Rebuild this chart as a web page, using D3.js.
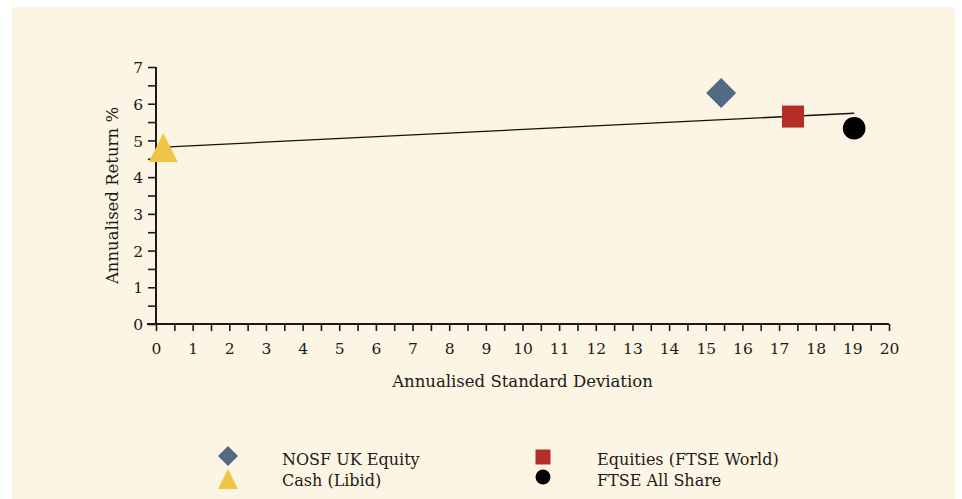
<!DOCTYPE html>
<html>
<head>
<meta charset="utf-8">
<script src="https://cdn.jsdelivr.net/npm/d3@7"></script>
<style>
  html, body { margin: 0; padding: 0; background: #ffffff; }
  svg { display: block; }
  text { font-family: "DejaVu Serif", serif; fill: #1a1a1a; }
</style>
</head>
<body>
<svg id="chart" width="962" height="499"></svg>
<script>
// ---- data ----
const seriesNames = ["NOSF UK Equity", "Equities (FTSE World)", "Cash (Libid)", "FTSE All Share"];
const stdDev      = [15.42, 17.38, 0.2, 19.05];
const annReturn   = [6.29, 5.65, 4.81, 5.33];
const symbols     = ["diamond", "square", "triangle", "circle"];
const colors      = ["#526a83", "#b52e26", "#f0c445", "#000000"];
const lineX = [0.22, 19.05];
const lineY = [4.82, 5.74];
const xTicks = d3.range(0, 21, 1);
const yTicks = d3.range(0, 8, 1);
const legendOrder = ["NOSF UK Equity", "Equities (FTSE World)", "Cash (Libid)", "FTSE All Share"];

// ---- layout ----
const svg = d3.select("#chart");
svg.append("rect").attr("x", 12).attr("y", 7).attr("width", 943).attr("height", 492).attr("fill", "#fdf5e3");

const x = d3.scaleLinear().domain([0, 20]).range([156, 889]);
const y = d3.scaleLinear().domain([0, 7]).range([324, 67]);

// ticks every 0.5, labels on integers
const xAxis = d3.axisBottom(x).tickValues(d3.range(0, 20.01, 0.5)).tickSize(7).tickPadding(12)
  .tickFormat(d => xTicks.includes(d) ? d : "");
const yAxis = d3.axisLeft(y).tickValues(d3.range(0, 7.01, 0.5)).tickSize(8).tickPadding(5)
  .tickFormat(d => yTicks.includes(d) ? d : "");

const gx = svg.append("g").attr("transform", "translate(0,324)").call(xAxis);
const gy = svg.append("g").attr("transform", "translate(156,0)").call(yAxis);
[gx, gy].forEach(g => {
  g.select(".domain").remove();
  g.selectAll(".tick line").attr("stroke", "#1a1a1a").attr("stroke-width", 1.6);
  g.selectAll(".tick text").style("font-family", '"DejaVu Serif", serif').style("font-size", "15.5px").attr("fill", "#1a1a1a");
});
gy.selectAll(".tick text").attr("dy", "0.36em");
// axis lines
svg.append("line").attr("x1", 147).attr("x2", x(20)).attr("y1", 324).attr("y2", 324)
  .attr("stroke", "#1a1a1a").attr("stroke-width", 2);
svg.append("line").attr("x1", 156).attr("x2", 156).attr("y1", y(7)).attr("y2", 325)
  .attr("stroke", "#1a1a1a").attr("stroke-width", 2);

// axis titles
svg.append("text").attr("x", (x(0) + x(20)) / 2).attr("y", 387).attr("text-anchor", "middle")
  .style("font-size", "16.5px").text("Annualised Standard Deviation");
svg.append("text").attr("transform", `translate(118,${(y(0) + y(7)) / 2}) rotate(-90)`)
  .attr("text-anchor", "middle").style("font-size", "16.5px").text("Annualised Return %");

// trend line
svg.append("line").attr("x1", x(lineX[0])).attr("y1", y(lineY[0]))
  .attr("x2", x(lineX[1])).attr("y2", y(lineY[1]))
  .attr("stroke", "#111").attr("stroke-width", 1.3);

function shapePath(type, s) {
  if (type === "diamond") return `M0,${-s}L${s},0L0,${s}L${-s},0Z`;
  if (type === "square") return `M${-s},${-s}H${s}V${s}H${-s}Z`;
  if (type === "triangle") return `M0,${-s}L${s},${s}L${-s},${s}Z`;
  return d3.arc()({innerRadius: 0, outerRadius: s, startAngle: 0, endAngle: 2 * Math.PI});
}
const plotSize = {diamond: 15, square: 11, triangle: 14.5, circle: 11.3};
const legSize  = {diamond: 10, square: 7.5, triangle: 10, circle: 7.5};

// markers
seriesNames.forEach((n, i) => {
  svg.append("path").attr("d", shapePath(symbols[i], plotSize[symbols[i]]))
    .attr("transform", `translate(${x(stdDev[i])},${y(annReturn[i])})`)
    .attr("fill", colors[i]);
});

// legend
const legPos = [[228, 456, 282, 465], [543, 457, 597, 465], [228, 479, 282, 486], [543, 477, 597, 486]];
legendOrder.forEach((n, k) => {
  const i = seriesNames.indexOf(n);
  const p = legPos[k];
  svg.append("path").attr("d", shapePath(symbols[i], legSize[symbols[i]]))
    .attr("transform", `translate(${p[0]},${p[1]})`).attr("fill", colors[i]);
  svg.append("text").attr("x", p[2]).attr("y", p[3]).style("font-size", "16px").text(n);
});
</script>
</body>
</html>
